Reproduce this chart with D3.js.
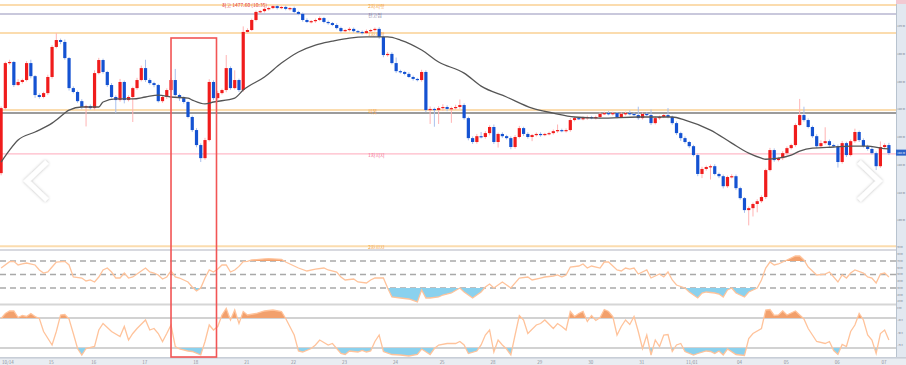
<!DOCTYPE html>
<html>
<head>
<meta charset="utf-8">
<script src="https://cdn.jsdelivr.net/npm/d3@7"></script>
<style>
  html, body { margin: 0; padding: 0; background: #fff; overflow: hidden; }
  svg { display: block; font-family: "Noto Sans CJK KR", "Noto Sans", sans-serif; }
</style>
</head>
<body>
<svg id="chart" width="906" height="365"></svg>
<script>
// ---- price candles (one per bar, oldest first) ----
const opens = [1417.1,1440.5,1456.7,1457.1,1448.8,1449.9,1450.6,1456.7,1452.0,1445.2,
  1444.5,1445.9,1451.7,1462.5,1465.0,1464.3,1458.5,1447.7,1446.3,1443.0,
  1440.9,1441.2,1440.5,1453.1,1457.8,1453.5,1448.8,1444.5,1443.4,1449.9,
  1443.4,1444.5,1447.7,1450.6,1454.9,1450.6,1449.5,1448.8,1443.0,1444.5,
  1447.0,1450.6,1445.2,1444.1,1442.7,1437.3,1432.6,1427.2,1422.5,1429.0,
  1449.9,1444.1,1445.9,1447.0,1454.9,1447.7,1450.6,1447.0,1467.9,1468.6,
  1472.2,1475.1,1475.4,1476.2,1476.5,1477.2,1476.5,1476.9,1476.2,1476.5,
  1475.1,1474.4,1472.2,1471.5,1471.8,1472.2,1472.9,1471.5,1471.1,1470.4,
  1469.3,1468.2,1468.6,1469.0,1468.2,1467.9,1467.5,1468.2,1468.6,1469.0,
  1466.1,1459.6,1460.0,1456.7,1453.8,1453.5,1452.8,1451.7,1451.0,1450.6,
  1453.5,1439.8,1440.2,1439.8,1440.5,1440.9,1440.2,1440.5,1440.9,1441.6,
  1436.9,1429.7,1428.3,1430.4,1430.1,1431.5,1433.7,1428.3,1431.2,1430.4,
  1429.7,1426.5,1430.1,1433.3,1431.2,1430.1,1430.8,1431.2,1430.8,1431.2,
  1431.5,1432.2,1432.6,1432.2,1432.6,1436.2,1436.9,1436.6,1436.9,1437.3,
  1436.9,1437.3,1438.4,1438.7,1438.4,1438.7,1437.3,1438.4,1438.7,1438.4,
  1438.0,1436.9,1438.4,1438.0,1435.1,1436.9,1437.3,1438.0,1437.3,1435.1,
  1431.5,1429.7,1428.3,1426.8,1423.6,1416.8,1418.6,1419.3,1419.6,1416.8,
  1416.0,1412.4,1415.7,1416.0,1411.7,1408.1,1403.8,1404.5,1406.0,1407.0,
  1408.5,1418.2,1425.4,1421.8,1422.5,1424.3,1426.1,1427.2,1434.4,1438.0,
  1436.2,1433.7,1430.4,1426.8,1427.9,1428.6,1427.2,1426.8,1421.1,1427.9,
  1423.6,1428.6,1431.9,1429.0,1426.8,1425.8,1424.3,1419.6,1426.5,1427.2];

const closes = [1440.5,1456.7,1457.1,1448.8,1449.9,1450.6,1456.7,1452.0,1445.2,1444.5,
  1445.9,1451.7,1462.5,1465.0,1464.3,1458.5,1447.7,1446.3,1443.0,1440.9,
  1441.2,1440.5,1453.1,1457.8,1453.5,1448.8,1444.5,1443.4,1449.9,1443.4,
  1444.5,1447.7,1450.6,1454.9,1450.6,1449.5,1448.8,1443.0,1444.5,1447.0,
  1450.6,1445.2,1444.1,1442.7,1437.3,1432.6,1427.2,1422.5,1429.0,1449.9,
  1444.1,1445.9,1447.0,1454.9,1447.7,1450.6,1447.0,1467.9,1468.6,1472.2,
  1475.1,1475.4,1476.2,1476.5,1477.2,1476.5,1476.9,1476.2,1476.5,1475.1,
  1474.4,1472.2,1471.5,1471.8,1472.2,1472.9,1471.5,1471.1,1470.4,1469.3,
  1468.2,1468.6,1469.0,1468.2,1467.9,1467.5,1468.2,1468.6,1469.0,1466.1,
  1459.6,1460.0,1456.7,1453.8,1453.5,1452.8,1451.7,1451.0,1450.6,1453.5,
  1439.8,1440.2,1439.8,1440.5,1440.9,1440.2,1440.5,1440.9,1441.6,1436.9,
  1429.7,1428.3,1430.4,1430.1,1431.5,1433.7,1428.3,1431.2,1430.4,1429.7,
  1426.5,1430.1,1433.3,1431.2,1430.1,1430.8,1431.2,1430.8,1431.2,1431.5,
  1432.2,1432.6,1432.2,1432.6,1436.2,1436.9,1436.6,1436.9,1437.3,1436.9,
  1437.3,1438.4,1438.7,1438.4,1438.7,1437.3,1438.4,1438.7,1438.4,1438.0,
  1436.9,1438.4,1438.0,1435.1,1436.9,1437.3,1438.0,1437.3,1435.1,1431.5,
  1429.7,1428.3,1426.8,1423.6,1416.8,1418.6,1419.3,1419.6,1416.8,1416.0,
  1412.4,1415.7,1416.0,1411.7,1408.1,1403.8,1404.5,1406.0,1407.0,1408.5,
  1418.2,1425.4,1421.8,1422.5,1424.3,1426.1,1427.2,1434.4,1438.0,1436.2,
  1433.7,1430.4,1426.8,1427.9,1428.6,1427.2,1426.8,1421.1,1427.9,1423.6,
  1428.6,1431.9,1429.0,1426.8,1425.8,1424.3,1419.6,1426.5,1427.2,1424.3];

// wick lengths above / below the body, in price units
const wickUp = [0.6,0.5,0.8,0.4,1.0,0.5,0.7,1.2,0.4,0.6,
  0.5,0.8,0.6,2.5,0.5,0.9,0.4,0.6,0.5,0.7,
  0.5,0.6,1.0,0.8,0.5,0.4,0.7,0.6,1.1,0.5,
  0.6,0.5,0.8,0.9,3.0,0.6,0.5,0.4,0.7,0.6,
  0.8,4.0,0.5,0.6,0.4,0.5,0.7,0.6,0.8,1.0,
  0.6,0.8,0.5,4.7,0.6,3.5,0.5,2.0,0.6,0.5,
  0.5,0.4,0.6,0.5,0.4,0.5,0.3,0.5,0.4,0.5,
  0.4,0.5,0.6,0.4,0.5,0.6,0.4,0.5,0.4,0.6,
  0.5,0.4,0.6,0.5,0.4,0.5,0.6,0.4,0.5,0.6,
  0.5,0.7,0.6,2.0,0.5,0.4,0.6,0.5,0.4,0.8,
  0.6,0.9,0.5,0.7,1.0,0.6,0.5,0.8,2.0,0.6,
  0.5,0.6,0.8,1.5,0.7,0.6,0.9,0.5,0.6,0.5,
  0.6,0.7,0.8,0.5,0.6,0.4,0.5,0.6,0.4,0.5,
  0.6,2.0,0.5,0.6,0.7,0.5,0.4,0.6,0.5,0.4,
  0.5,0.6,0.5,0.7,0.5,0.4,0.6,0.5,1.0,0.6,
  3.0,0.5,0.6,2.0,0.6,0.5,0.4,2.5,0.5,0.6,
  0.5,0.6,0.4,0.5,0.6,0.8,0.5,0.6,0.7,0.5,
  0.6,0.5,0.7,0.6,0.5,0.4,0.6,0.5,0.7,0.6,
  0.5,0.8,0.6,0.5,0.7,0.6,0.5,0.6,5.8,3.0,
  0.6,0.5,0.7,1.0,5.0,0.6,0.5,0.6,0.8,0.5,
  0.6,1.2,0.5,0.6,0.5,0.7,0.6,2.0,0.6,0.8];

const wickDn = [0.8,0.5,0.6,0.7,0.4,0.6,0.5,0.8,1.0,0.6,
  0.5,0.7,0.6,0.5,0.8,0.6,0.9,0.5,0.6,0.8,
  7.0,0.6,0.8,0.5,0.6,0.7,0.5,4.7,0.6,1.2,
  0.5,9.0,0.6,0.5,0.7,0.6,0.8,0.5,0.6,0.7,
  0.6,0.5,1.0,0.6,0.5,0.7,0.8,1.4,0.6,0.5,
  0.7,0.6,0.5,0.8,0.6,0.5,0.7,0.6,0.5,0.4,
  0.5,0.4,0.5,0.6,0.4,0.5,0.4,0.5,0.6,0.4,
  0.5,0.6,0.4,0.5,0.6,0.4,0.5,0.6,0.4,0.5,
  0.6,0.4,0.5,0.6,0.4,0.5,0.4,0.6,0.5,0.7,
  0.8,0.6,0.5,0.7,0.6,0.5,0.4,0.6,0.5,0.6,
  0.8,5.0,6.0,5.0,1.0,0.8,5.0,0.6,0.7,0.6,
  0.8,0.7,0.6,0.5,0.6,0.8,0.7,2.0,0.6,0.5,
  0.8,0.6,0.5,0.7,0.6,1.5,0.5,0.6,0.4,0.5,
  0.5,0.6,0.4,0.5,0.6,0.5,0.4,0.5,0.6,0.4,
  0.5,0.6,0.4,0.5,0.6,0.5,0.4,0.6,0.5,0.4,
  0.6,0.5,0.4,0.7,0.5,0.6,0.4,0.5,0.6,0.7,
  1.0,0.6,0.7,0.5,0.8,1.5,0.6,4.5,0.5,0.7,
  0.8,0.6,0.5,0.7,0.6,1.0,5.5,3.0,3.0,0.6,
  0.7,0.5,0.6,0.5,0.7,0.6,0.5,0.6,0.4,0.6,
  0.5,0.6,0.7,0.5,0.6,0.8,0.5,2.0,0.6,0.7,
  0.5,0.6,0.7,0.5,0.6,0.5,1.4,0.6,0.5,0.7];

// moving average, read at these bar indices
const maIdx = [0,2,4,8,12,13,16,19,23,24,27,31,34,37,40,44,45,48,50,55,
  57,62,66,70,74,78,82,86,91,94,99,103,109,113,119,125,130,135,141,150,
  158,161,167,172,176,179,180,183,186,188,191,196,200,204,207,209];
const maVal = [1421.1,1425.4,1429.0,1431.9,1435.1,1436.2,1439.8,1440.9,1440.9,1442.7,
  1443.8,1443.8,1444.5,1445.2,1444.5,1444.1,1443.4,1442.0,1442.7,1444.1,
  1447.0,1451.7,1456.7,1460.7,1463.2,1464.6,1465.7,1466.1,1466.1,1465.0,
  1461.4,1457.1,1453.1,1448.4,1444.5,1440.5,1438.7,1437.3,1436.9,1437.3,
  1437.3,1436.2,1432.6,1427.9,1424.3,1422.5,1422.1,1422.5,1423.6,1425.0,
  1426.1,1426.5,1426.8,1426.8,1426.1,1425.8];

// horizontal levels
const levelPrices = [1477.6, 1474.4, 1467.5, 1439.8, 1424.0, 1390.8];
const levelNames = ['2차저항', '전고점', '1차저항', '피봇', '1차지지', '2차지지'];
const markPrice = 1438.7;
const highLabel = '최고 1477.60 (10:35)';

// RSI, read at these bar indices
const rsiIdx = [0,2,3,4,5,6,8,9,10,11,12,13,15,16,17,19,20,21,22,23,
  24,25,26,27,28,29,30,31,32,33,34,35,36,37,38,39,40,41,42,44,
  45,46,47,48,49,50,51,52,53,54,55,56,57,58,59,62,63,66,67,69,
  70,72,74,76,77,79,80,81,83,84,86,87,88,90,91,92,94,96,98,99,
  100,101,103,104,106,108,109,111,112,113,114,115,116,118,119,120,122,124,125,127,
  128,130,131,132,133,134,136,137,138,139,141,142,143,145,146,147,148,149,150,152,
  153,155,156,157,158,159,161,162,164,165,166,168,169,170,171,172,173,175,176,178,
  179,180,181,182,183,184,185,187,188,189,190,192,194,195,197,198,199,200,201,203,
  204,205,206,207,208,209];
const rsiVal = [59.6,69.0,69.5,64.1,65.6,67.0,64.1,56.7,52.2,53.7,61.1,68.5,69.5,64.1,46.3,44.8,40.4,41.9,38.9,46.3,
  56.7,59.6,53.7,44.8,44.8,52.2,44.8,46.3,50.7,55.2,59.6,53.7,52.2,49.3,43.3,46.3,55.2,46.3,44.8,38.9,
  31.5,25.6,30.0,44.8,56.7,53.7,58.1,64.1,64.1,53.7,56.7,62.0,69.0,69.5,71.5,73.0,73.5,72.5,68.5,62.6,
  59.6,55.2,58.1,59.6,56.7,53.7,46.3,41.9,43.3,38.9,37.4,41.9,44.8,44.8,30.0,16.7,15.2,13.7,9.3,27.0,
  15.2,15.2,16.7,19.6,22.6,30.0,24.1,15.2,19.6,24.1,31.5,35.9,30.0,38.9,34.4,30.0,44.8,46.3,41.9,44.8,
  46.3,47.8,49.3,46.3,49.3,61.1,62.6,65.6,59.6,62.6,59.6,68.5,68.5,56.7,55.2,59.6,58.1,59.6,50.7,56.7,
  44.8,50.7,46.3,53.7,41.9,34.4,30.0,24.1,15.2,22.6,24.1,22.6,21.1,16.7,27.0,30.0,22.6,16.7,24.1,30.0,
  41.9,59.6,68.5,64.1,65.6,68.5,71.5,77.4,77.4,71.5,61.1,49.3,50.7,53.7,38.9,49.3,44.8,52.2,56.7,52.2,
  46.3,44.8,37.4,50.7,52.2,46.3];
const rsiTicks = [10, 20, 30, 40, 50, 60, 70, 80, 90];

// Williams %R, read at these bar indices
const wrIdx = [0,1,2,3,4,5,6,7,8,9,10,12,13,14,15,16,17,18,19,20,
  22,23,24,25,26,28,29,30,31,32,34,35,36,37,38,39,40,41,42,44,
  45,47,48,49,50,51,52,53,54,55,56,57,58,60,62,64,66,67,69,70,
  71,73,74,75,77,78,80,81,82,84,85,86,87,88,89,90,92,94,96,98,
  99,101,102,103,105,107,108,109,110,112,113,114,115,116,117,118,119,120,121,122,
  123,124,126,127,128,130,131,132,133,134,135,136,137,138,139,140,141,142,143,144,
  145,146,147,148,149,150,151,152,153,154,155,156,157,158,159,160,161,163,164,166,
  167,168,169,170,171,173,174,175,176,177,179,180,181,182,183,184,185,187,188,189,
  190,192,194,195,196,197,198,199,200,201,202,203,204,205,206,207,208,209];
const wrVal = [-21,-11,-6,-6,-19,-15,-17,-11,-17,-21,-47,-74,-47,-14,-13,-22,-51,-81,-94,-81,
  -77,-44,-31,-39,-47,-57,-37,-64,-51,-41,-24,-44,-41,-51,-67,-51,-34,-77,-82,-86,
  -87,-94,-67,-34,-44,-37,-14,-1,-24,-4,-31,-7,-14,-11,-6,-4,-7,-21,-54,-86,
  -88,-81,-74,-64,-74,-71,-91,-93,-86,-88,-85,-88,-86,-67,-54,-87,-93,-94,-96,-93,
  -82,-93,-81,-74,-71,-71,-67,-74,-91,-86,-74,-54,-44,-88,-64,-74,-82,-94,-54,-15,
  -24,-51,-34,-31,-24,-41,-31,-37,-44,-7,-17,-11,-7,-27,-15,-25,-19,-3,-7,-17,
  -54,-37,-24,-33,-17,-47,-81,-54,-94,-64,-77,-54,-53,-87,-74,-71,-87,-94,-91,-86,
  -87,-91,-86,-94,-82,-93,-94,-95,-61,-51,-41,-4,-3,-15,-14,-6,-14,-6,-14,-22,
  -41,-67,-71,-67,-85,-93,-73,-77,-47,-34,-11,-24,-54,-64,-91,-51,-44,-64];
const wrTicks = [0, -25, -50, -75];

// price axis and time axis
const priceTicks = [1400, 1410, 1420, 1430, 1440, 1450, 1460, 1470];
const timeIdx = [0, 11, 21, 33, 45, 57, 68, 80, 92, 103, 115, 126, 138, 150, 161, 173, 184, 196, 207];
const timeLabels = ['10/14','15','16','17','18','21','22','23','24','25','28','29','30','31','11/01','04','05','06','07'];

// highlighted bar range
const boxFrom = 40, boxTo = 50;

// ---------------------------------------------------------------
const W = 906, H = 365, plotW = 896;
const svg = d3.select('#chart');

const x = d3.scaleLinear().domain([0, closes.length - 1]).range([1.1, 888.9]);
const y = d3.scaleLinear().domain([1389.8, 1479.4]).range([249, 0]);
const yRsi = d3.scaleLinear().domain([0, 100]).range([308.25, 240.75]);
const yWr = d3.scaleLinear().domain([-100, 0]).range([358, 308]);

const defs = svg.append('defs');
defs.append('clipPath').attr('id', 'clipMain').append('rect')
  .attr('x', 0).attr('y', 0).attr('width', plotW).attr('height', 249);
defs.append('clipPath').attr('id', 'clipRsi').append('rect')
  .attr('x', 0).attr('y', 251).attr('width', plotW).attr('height', 53);
defs.append('clipPath').attr('id', 'clipWr').append('rect')
  .attr('x', 0).attr('y', 305.5).attr('width', plotW).attr('height', 52);
// regions beyond the thresholds, used to cut the filled areas
defs.append('clipPath').attr('id', 'rsiHigh').append('rect')
  .attr('x', 0).attr('y', 240).attr('width', plotW).attr('height', yRsi(70) - 240);
defs.append('clipPath').attr('id', 'rsiLow').append('rect')
  .attr('x', 0).attr('y', yRsi(30)).attr('width', plotW).attr('height', 320 - yRsi(30));
defs.append('clipPath').attr('id', 'wrHigh').append('rect')
  .attr('x', 0).attr('y', 300).attr('width', plotW).attr('height', yWr(-20) - 300);
defs.append('clipPath').attr('id', 'wrLow').append('rect')
  .attr('x', 0).attr('y', yWr(-80)).attr('width', plotW).attr('height', 365 - yWr(-80));

const shadow = defs.append('filter').attr('id', 'shadow')
  .attr('x', '-50%').attr('y', '-50%').attr('width', '200%').attr('height', '200%');
shadow.append('feDropShadow').attr('dx', 0).attr('dy', 0)
  .attr('stdDeviation', 1.6).attr('flood-color', '#000').attr('flood-opacity', 0.3);

svg.append('rect').attr('width', W).attr('height', H).attr('fill', '#fff');

// ---- main panel ----
const main = svg.append('g').attr('clip-path', 'url(#clipMain)');

const levelStyle = [
  {stroke: '#fbdcae', width: 2, text: '#f3a54a'},
  {stroke: '#c9c8dc', width: 2, text: '#7d7ca0'},
  {stroke: '#fbdcae', width: 2, text: '#f3a54a'},
  {stroke: '#fbdcae', width: 2, text: '#f3a54a'},
  {stroke: '#ffbac8', width: 1.2, text: '#f2708f'},
  {stroke: '#fbdcae', width: 2, text: '#f3a54a'}
];

main.selectAll('.level')
  .data(levelPrices)
  .enter()
  .append('line')
  .attr('class', 'level')
  .attr('x1', 0).attr('x2', plotW)
  .attr('y1', d => y(d)).attr('y2', d => y(d))
  .attr('stroke', (d, i) => levelStyle[i].stroke)
  .attr('stroke-width', (d, i) => levelStyle[i].width);

main.append('line')
  .attr('x1', 0).attr('x2', plotW)
  .attr('y1', y(markPrice)).attr('y2', y(markPrice))
  .attr('stroke', '#7a7a7a').attr('stroke-width', 1.5);

main.selectAll('.level-label')
  .data(levelPrices)
  .enter()
  .append('text')
  .attr('class', 'level-label')
  .attr('x', 368)
  .attr('y', d => y(d) + 3)
  .attr('fill', (d, i) => levelStyle[i].text)
  .style('font-size', '5px')
  .text((d, i) => levelNames[i]);

const candles = closes.map((c, i) => ({
  i,
  o: opens[i],
  c,
  h: Math.max(opens[i], c) + wickUp[i],
  l: Math.min(opens[i], c) - wickDn[i]
}));

main.selectAll('.wick')
  .data(candles)
  .enter()
  .append('line')
  .attr('class', 'wick')
  .attr('x1', d => x(d.i)).attr('x2', d => x(d.i))
  .attr('y1', d => y(d.h)).attr('y2', d => y(d.l))
  .attr('stroke', d => d.c >= d.o ? '#ffb3b3' : '#a9c0ee')
  .attr('stroke-width', 1);

main.selectAll('.body')
  .data(candles)
  .enter()
  .append('rect')
  .attr('class', 'body')
  .attr('x', d => x(d.i) - 1.6)
  .attr('width', 3.2)
  .attr('y', d => y(Math.max(d.o, d.c)))
  .attr('height', d => Math.max(1.2, Math.abs(y(d.o) - y(d.c))))
  .attr('fill', d => d.c >= d.o ? '#f01c1c' : '#1452d2');

const maLine = d3.line()
  .x((d, j) => x(maIdx[j]))
  .y(d => y(d))
  .curve(d3.curveMonotoneX);

main.append('path')
  .datum(maVal)
  .attr('d', maLine)
  .attr('fill', 'none')
  .attr('stroke', '#555')
  .attr('stroke-width', 1.3);

const peakIdx = d3.maxIndex(candles, d => d.h);
main.append('text')
  .attr('x', x(peakIdx) - 10)
  .attr('y', y(candles[peakIdx].h) + 2)
  .attr('text-anchor', 'end')
  .attr('fill', '#e53935')
  .style('font-size', '5px')
  .text(highLabel);

// ---- panel separators ----
svg.append('rect').attr('x', 0).attr('y', 249).attr('width', plotW).attr('height', 2).attr('fill', '#d8d9df');
svg.append('rect').attr('x', 0).attr('y', 303.5).attr('width', plotW).attr('height', 2).attr('fill', '#d6d6d6');

// ---- RSI panel ----
const rsiG = svg.append('g').attr('clip-path', 'url(#clipRsi)');

rsiG.selectAll('.rsi-guide')
  .data([70, 50, 30])
  .enter()
  .append('line')
  .attr('class', 'rsi-guide')
  .attr('x1', 0).attr('x2', plotW)
  .attr('y1', d => yRsi(d)).attr('y2', d => yRsi(d))
  .attr('stroke', '#a9a9a9')
  .attr('stroke-width', 1.6)
  .attr('stroke-dasharray', '6,4');

const rsiPts = rsiVal.map((v, j) => [x(rsiIdx[j]), yRsi(v)]);

rsiG.append('g').attr('clip-path', 'url(#rsiHigh)')
  .append('path')
  .datum(rsiPts)
  .attr('d', d3.area().x(d => d[0]).y0(yRsi(70)).y1(d => d[1]))
  .attr('fill', '#f2a06c');

rsiG.append('g').attr('clip-path', 'url(#rsiLow)')
  .append('path')
  .datum(rsiPts)
  .attr('d', d3.area().x(d => d[0]).y0(yRsi(30)).y1(d => d[1]))
  .attr('fill', '#8ad1ee');

rsiG.append('path')
  .datum(rsiPts)
  .attr('d', d3.line())
  .attr('fill', 'none')
  .attr('stroke', '#ffc39b')
  .attr('stroke-width', 1.3);

// ---- Williams %R panel ----
const wrG = svg.append('g').attr('clip-path', 'url(#clipWr)');

wrG.selectAll('.wr-guide')
  .data([-20, -80])
  .enter()
  .append('line')
  .attr('class', 'wr-guide')
  .attr('x1', 0).attr('x2', plotW)
  .attr('y1', d => yWr(d)).attr('y2', d => yWr(d))
  .attr('stroke', '#d2d2d2')
  .attr('stroke-width', 2);

const wrPts = wrVal.map((v, j) => [x(wrIdx[j]), yWr(v)]);

wrG.append('g').attr('clip-path', 'url(#wrHigh)')
  .append('path')
  .datum(wrPts)
  .attr('d', d3.area().x(d => d[0]).y0(yWr(-20)).y1(d => d[1]))
  .attr('fill', '#f2a06c');

wrG.append('g').attr('clip-path', 'url(#wrLow)')
  .append('path')
  .datum(wrPts)
  .attr('d', d3.area().x(d => d[0]).y0(yWr(-80)).y1(d => d[1]))
  .attr('fill', '#8ad1ee');

wrG.append('path')
  .datum(wrPts)
  .attr('d', d3.line())
  .attr('fill', 'none')
  .attr('stroke', '#ffc39b')
  .attr('stroke-width', 1.3);

// ---- time axis strip ----
svg.append('rect').attr('x', 0).attr('y', 357.5).attr('width', W).attr('height', 8).attr('fill', '#e9edf2');
svg.append('rect').attr('x', 0).attr('y', 357).attr('width', W).attr('height', 1.6).attr('fill', '#c8ced7');

svg.selectAll('.time-label')
  .data(timeIdx)
  .enter()
  .append('text')
  .attr('class', 'time-label')
  .attr('x', d => x(d) + 1)
  .attr('y', 363.5)
  .attr('fill', '#8a8f99')
  .style('font-size', '4.5px')
  .text((d, k) => timeLabels[k]);

// ---- right price axis strip ----
svg.append('rect').attr('x', plotW).attr('y', 0).attr('width', W - plotW).attr('height', 357).attr('fill', '#e2e8f0');
svg.append('line').attr('x1', plotW + 0.5).attr('x2', plotW + 0.5).attr('y1', 0).attr('y2', 357)
  .attr('stroke', '#b8c3cf').attr('stroke-width', 1);

// the strip is only 10px wide, so the labels are very small
const axisText = (sel) => sel
  .attr('fill', '#6f7784')
  .style('font-size', '2.2px');

svg.selectAll('.price-tick')
  .data(priceTicks)
  .enter()
  .append('text')
  .attr('class', 'price-tick')
  .attr('x', plotW + 1.2)
  .attr('y', d => y(d) + 0.8)
  .call(axisText)
  .text(d => d3.format('.2f')(d));

svg.selectAll('.rsi-tick')
  .data(rsiTicks)
  .enter()
  .append('text')
  .attr('class', 'rsi-tick')
  .attr('x', plotW + 1.2)
  .attr('y', d => yRsi(d) + 0.8)
  .call(axisText)
  .text(d => d3.format('.2f')(d));

svg.selectAll('.wr-tick')
  .data(wrTicks)
  .enter()
  .append('text')
  .attr('class', 'wr-tick')
  .attr('x', plotW + 1.2)
  .attr('y', d => yWr(d) + 0.8)
  .call(axisText)
  .text(d => d === 0 ? '0.00' : d3.format('.1f')(d));

// current price tag
const last = closes[closes.length - 1];
svg.append('rect')
  .attr('x', plotW).attr('y', y(last) - 3.5)
  .attr('width', W - plotW).attr('height', 6)
  .attr('fill', '#2a62c9');
svg.append('text')
  .attr('x', plotW + 1.2).attr('y', y(last) + 0.6)
  .attr('fill', '#fff')
  .style('font-size', '2.2px')
  .text(d3.format('.2f')(last));

// top tag
svg.append('rect')
  .attr('x', plotW).attr('y', 0)
  .attr('width', W - plotW).attr('height', 4)
  .attr('fill', '#f3c9d2');

// ---- highlight box ----
svg.append('rect')
  .attr('x', x(boxFrom))
  .attr('y', 38)
  .attr('width', x(boxTo) - x(boxFrom) + 3)
  .attr('height', 319)
  .attr('fill', 'none')
  .attr('stroke', '#f25555')
  .attr('stroke-width', 1.6);

// ---- navigation chevrons ----
const chevron = d3.line();
svg.append('path')
  .attr('d', chevron([[47, 162], [27, 181], [47, 200]]))
  .attr('fill', 'none').attr('stroke', '#fff').attr('stroke-width', 5)
  .attr('filter', 'url(#shadow)');
svg.append('path')
  .attr('d', chevron([[859, 162], [879, 181], [859, 200]]))
  .attr('fill', 'none').attr('stroke', '#fff').attr('stroke-width', 5)
  .attr('filter', 'url(#shadow)');
</script>
</body>
</html>
